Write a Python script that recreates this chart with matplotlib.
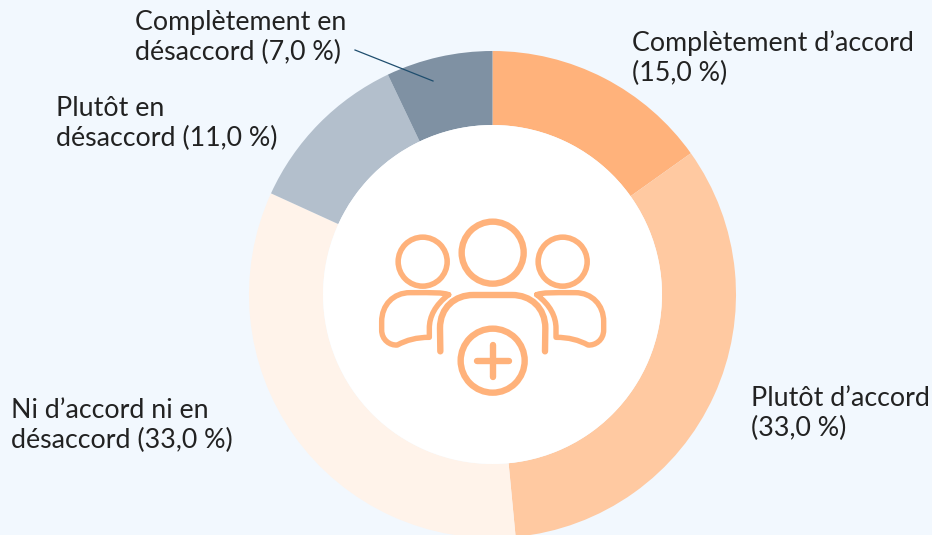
import matplotlib
matplotlib.use("Agg")
import matplotlib.pyplot as plt
from matplotlib.path import Path
from matplotlib.patches import PathPatch, Circle

W, H = 932, 535
categories = ["Complètement d'accord", "Plutôt d'accord", "Ni d'accord ni en désaccord",
              "Plutôt en désaccord", "Complètement en désaccord"]
values = [15.0, 33.0, 33.0, 11.0, 7.0]
colors = ["#FFB27B", "#FFC9A1", "#FFF3EA", "#B3BFCC", "#7F91A3"]
label_lines = [["Complètement d\u2019accord", "(15,0 %)"],
               ["Plutôt d\u2019accord", "(33,0 %)"],
               ["Ni d\u2019accord ni en", "désaccord (33,0 %)"],
               ["Plutôt en", "désaccord (11,0 %)"],
               ["Complètement en", "désaccord (7,0 %)"]]
label_pos = [(632, 51), (751, 406), (11, 418), (56, 116), (135, 30)]
BG = "#F2F8FE"
ICON = "#FFB27B"
TEXT = "#222222"

fig = plt.figure(figsize=(W/100, H/100), dpi=100, facecolor=BG)
ax = fig.add_axes([0, 0, 1, 1])
ax.set_xlim(0, W); ax.set_ylim(0, H); ax.axis("off")

cx, cy, R, r = 492.5, H-294.5, 243.5, 169.5
ax.pie(values, colors=colors, startangle=90, counterclock=False, center=(cx, cy), radius=R,
       wedgeprops=dict(width=R-r, linewidth=0), frame=True)
ax.set_xlim(0, W); ax.set_ylim(0, H); ax.axis("off"); ax.set_aspect("equal")
ax.add_patch(Circle((cx, cy), r, fc="white", ec="none", zorder=3))

for lines, (x, y) in zip(label_lines, label_pos):
    for i, s in enumerate(lines):
        ax.text(x, H-(y+i*30.5), s, fontsize=19.3, family="Lato", color=TEXT, va="baseline", ha="left", zorder=6)

ax.plot([355, 433], [H-50, H-81], color="#1F4E6E", lw=0.9, zorder=6)

# icon, in zoom-crop coordinates
def Z(p, mirror=False):
    x, y = p
    if mirror:
        x = 2*398-x
    return (360+x/3, H-(200+y/3))

def curve(pts, mirror=False):
    verts = [Z(pts[0], mirror)]
    codes = [Path.MOVETO]
    for seg in pts[1:]:
        if len(seg) == 3:
            verts += [Z(s, mirror) for s in seg]; codes += [Path.CURVE4]*3
        else:
            verts.append(Z(seg, mirror)); codes.append(Path.LINETO)
    return Path(verts, codes)

st = dict(fc="none", ec=ICON, zorder=5, capstyle="round", joinstyle="round")
center_body = [(241, 454), (240, 385),
               ((240, 322), (285, 285), (340, 285)),
               (456, 285),
               ((511, 285), (556, 322), (556, 385)),
               (555, 454)]
ax.add_patch(PathPatch(curve(center_body), lw=4.6, **st))
side = [(266, 284),
        ((245, 277), (225, 278), (150, 278)),
        ((100, 278), (65, 315), (65, 365)),
        (65, 390),
        ((65, 420), (90, 437), (112, 435)),
        ((140, 420), (170, 412), (208, 412)),
        (208, 385),
        ((208, 350), (225, 315), (266, 284))]
for m in (False, True):
    ax.add_patch(PathPatch(curve(side, m), lw=3.9, **st))
    hx, hy = Z((188, 185), m)
    ax.add_patch(Circle((hx, hy), 24.5, lw=4.0, **st))
hx, hy = Z((398, 158))
ax.add_patch(Circle((hx, hy), 31, lw=4.6, **st))
hx, hy = Z((398, 482))
ax.add_patch(Circle((hx, hy), 32, lw=4.6, **st))
ax.add_patch(PathPatch(curve([(350, 482), (448, 482)]), lw=4.6, **st))
ax.add_patch(PathPatch(curve([(398, 434), (398, 531)]), lw=4.6, **st))

fig.savefig("out.png", dpi=100, facecolor=BG)
